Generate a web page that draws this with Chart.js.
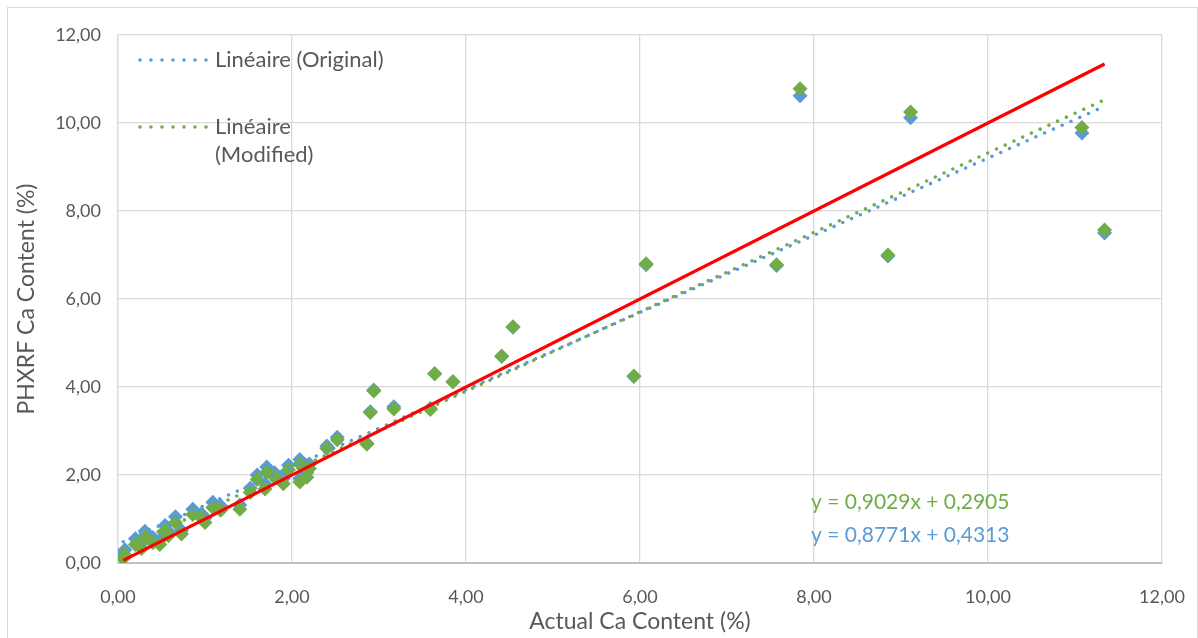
<!DOCTYPE html>
<html>
<head>
<meta charset="utf-8">
<title>PHXRF vs Actual Ca Content</title>
<script src="https://cdn.jsdelivr.net/npm/chart.js@4.4.1/dist/chart.umd.min.js"></script>
<style>
  html, body { margin: 0; padding: 0; background: #ffffff; }
  #wrap { width: 1198px; height: 638px; position: relative; }
  canvas { display: block; }
</style>
</head>
<body>
<div id="wrap"><canvas id="chart" width="1198" height="638"></canvas></div>
<script>
// Actual Ca content of each sample (%)
const actualCa = [
  0.06, 0.08, 0.20, 0.27, 0.31, 0.40, 0.48, 0.54, 0.58, 0.66,
  0.73, 0.86, 0.96, 1.00, 1.09, 1.18, 1.40, 1.52, 1.60, 1.69,
  1.71, 1.80, 1.90, 1.96, 2.09, 2.09, 2.17, 2.20, 2.40, 2.52,
  2.86, 2.90, 2.94, 3.17, 3.59, 3.64, 3.85, 4.41, 4.54, 5.93,
  6.07, 7.57, 7.84, 8.85, 9.11, 11.08, 11.34
];
// PHXRF readings, original calibration (%)
const phxrfOriginal = [
  0.22, 0.30, 0.55, 0.45, 0.72, 0.58, 0.52, 0.85, 0.72, 1.05,
  0.74, 1.22, 1.12, 1.02, 1.38, 1.30, 1.32, 1.70, 2.00, 1.80,
  2.18, 2.05, 1.92, 2.22, 2.35, 1.92, 2.05, 2.25, 2.66, 2.86,
  2.72, 3.44, 3.93, 3.55, 3.51, 4.30, 4.12, 4.70, 5.36, 4.24,
  6.78, 6.76, 10.62, 6.98, 10.12, 9.77, 7.50
];
// PHXRF readings, modified calibration (%)
const phxrfModified = [
  0.10, 0.18, 0.42, 0.33, 0.60, 0.46, 0.42, 0.74, 0.62, 0.92,
  0.66, 1.10, 1.02, 0.92, 1.26, 1.20, 1.22, 1.60, 1.90, 1.68,
  2.06, 1.95, 1.80, 2.12, 2.25, 1.84, 1.95, 2.15, 2.60, 2.80,
  2.70, 3.42, 3.91, 3.50, 3.49, 4.30, 4.12, 4.70, 5.37, 4.25,
  6.80, 6.78, 10.78, 7.00, 10.25, 9.90, 7.57
];
// Linear trendlines: [slope, intercept]
const fitOriginal = [0.8771, 0.4313];
const fitModified = [0.9029, 0.2905];
// Shared tick values for both axes
const axisTicks = [0, 2, 4, 6, 8, 10, 12];
const seriesNames = ['Original', 'Modified'];

const BLUE = '#5B9BD5';
const GREEN = '#70AD47';
const RED = '#FF0000';
const TEXT = '#595959';
const FONT = 'Lato, "Open Sans", sans-serif';

const fmt = v => Number(v).toFixed(2).replace('.', ',');
const fmtCoef = v => v.toFixed(4).replace('.', ',');
const xMin = Math.min(...actualCa);
const xMax = Math.max(...actualCa);

const toPoints = ys => actualCa.map((x, i) => ({ x: x, y: ys[i] }));
const fitLine = f => [xMin, xMax].map(x => ({ x: x, y: f[0] * x + f[1] }));

const dotted = {
  borderWidth: 3.6,
  borderDash: [0, 9.6],
  borderCapStyle: 'round',
  pointRadius: 0,
  showLine: true,
  fill: false
};

const datasets = [
  {
    label: seriesNames[0], data: toPoints(phxrfOriginal),
    backgroundColor: BLUE, borderColor: BLUE, borderWidth: 0,
    pointStyle: 'rectRot', pointRadius: 7.5, showLine: false, order: 5
  },
  {
    label: seriesNames[1], data: toPoints(phxrfModified),
    backgroundColor: GREEN, borderColor: GREEN, borderWidth: 0,
    pointStyle: 'rectRot', pointRadius: 7.5, showLine: false, order: 4
  },
  Object.assign({
    label: 'Linéaire (' + seriesNames[0] + ')', data: fitLine(fitOriginal),
    borderColor: BLUE, backgroundColor: BLUE, order: 2, fit: fitOriginal, inLegend: true
  }, dotted),
  Object.assign({
    label: 'Linéaire (' + seriesNames[1] + ')', data: fitLine(fitModified),
    borderColor: GREEN, backgroundColor: GREEN, order: 1, fit: fitModified, inLegend: true
  }, dotted),
  {
    label: '1:1', data: [{ x: xMin, y: xMin }, { x: xMax, y: xMax }],
    borderColor: RED, backgroundColor: RED, borderWidth: 3.2, pointRadius: 0,
    showLine: true, fill: false, order: 0
  }
];

// Chart frame, in-plot legend for the trendlines and their equations
const decor = {
  id: 'decor',
  beforeDraw(chart) {
    const ctx = chart.ctx;
    ctx.save();
    ctx.fillStyle = '#ffffff';
    ctx.fillRect(0, 0, chart.width, chart.height);
    ctx.strokeStyle = '#d9d9d9';
    ctx.lineWidth = 1;
    ctx.strokeRect(7.5, 7.5, chart.width - 8, chart.height + 10);
    ctx.restore();
  },
  afterDatasetsDraw(chart) {
    const ctx = chart.ctx;
    const area = chart.chartArea;
    const items = chart.data.datasets.filter(d => d.inLegend);
    ctx.save();

    // legend
    ctx.font = '22px ' + FONT;
    ctx.textBaseline = 'middle';
    ctx.textAlign = 'left';
    const maxW = ctx.measureText(items[0].label).width + 2;
    const sx0 = area.left + 22, sx1 = area.left + 89, tx = area.left + 97;
    let y = area.top + 25;
    items.forEach(d => {
      ctx.strokeStyle = d.borderColor;
      ctx.lineWidth = d.borderWidth;
      ctx.lineCap = 'round';
      ctx.setLineDash([0, 11]);
      ctx.beginPath();
      ctx.moveTo(sx0, y);
      ctx.lineTo(sx1, y);
      ctx.stroke();
      ctx.setLineDash([]);
      // wrap label text to the legend width
      const words = d.label.split(' ');
      const lines = [];
      let cur = '';
      words.forEach(w => {
        const t = cur ? cur + ' ' + w : w;
        if (cur && ctx.measureText(t).width > maxW) { lines.push(cur); cur = w; }
        else cur = t;
      });
      lines.push(cur);
      ctx.fillStyle = TEXT;
      lines.forEach((ln, i) => ctx.fillText(ln, tx, y + i * 28));
      y += lines.length * 28 + 39;
    });

    // trendline equations
    ctx.font = '21px ' + FONT;
    const eq = [[fitModified, GREEN, 502], [fitOriginal, BLUE, 535]];
    eq.forEach(([f, col, yy]) => {
      ctx.fillStyle = col;
      ctx.fillText('y = ' + fmtCoef(f[0]) + 'x + ' + fmtCoef(f[1]), 811, yy);
    });
    ctx.restore();
  }
};

const tickFont = { family: FONT, size: 18 };
const titleFont = { family: FONT, size: 23 };

new Chart(document.getElementById('chart'), {
  type: 'scatter',
  data: { datasets: datasets },
  options: {
    responsive: false,
    animation: false,
    layout: { padding: { left: 0, top: 35, right: 36, bottom: 0 } },
    plugins: { legend: { display: false }, tooltip: { enabled: false } },
    scales: {
      x: {
        type: 'linear', min: 0, max: 12,
        afterBuildTicks: s => { s.ticks = axisTicks.map(v => ({ value: v })); },
        afterFit: s => { s.height = 75; s.paddingLeft = 0; s.paddingRight = 0; },
        ticks: { callback: fmt, color: TEXT, font: tickFont, padding: 23, maxRotation: 0 },
        grid: { color: '#d9d9d9', lineWidth: 1.3, drawTicks: false },
        border: { color: '#bfbfbf', width: 2 },
        title: { display: true, text: 'Actual Ca Content (%)', color: TEXT, font: titleFont, padding: { top: 0, bottom: 3 } }
      },
      y: {
        type: 'linear', min: 0, max: 12,
        afterBuildTicks: s => { s.ticks = axisTicks.map(v => ({ value: v })); },
        afterFit: s => { s.width = 118; s.paddingTop = 0; s.paddingBottom = 0; },
        ticks: { callback: fmt, color: TEXT, font: tickFont, padding: 17 },
        grid: { color: '#d9d9d9', lineWidth: 1.3, drawTicks: false },
        border: { color: '#d9d9d9', width: 1.3 },
        title: { display: true, text: 'PHXRF Ca Content (%)', color: TEXT, font: titleFont, padding: { top: 13, bottom: 0 } }
      }
    }
  },
  plugins: [decor]
});
</script>
</body>
</html>
